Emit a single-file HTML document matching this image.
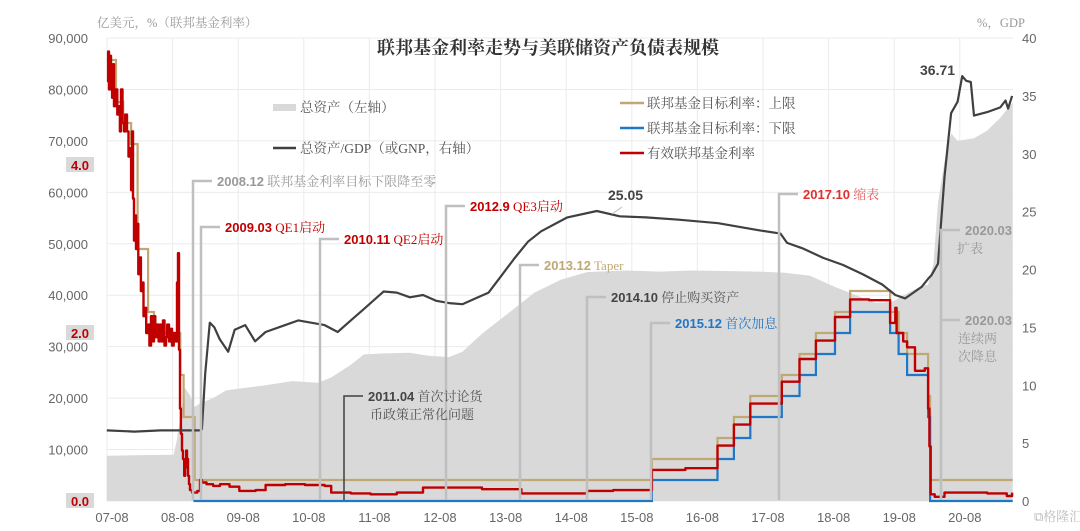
<!DOCTYPE html>
<html><head><meta charset="utf-8"><style>
html,body{margin:0;padding:0;background:#fff;}
svg{display:block;font-family:"Liberation Sans","Noto Sans CJK SC",sans-serif;}
.cn{font-family:"Liberation Serif","Noto Serif CJK SC",serif;}
</style></head><body>
<svg id="chart" width="1080" height="531" viewBox="0 0 1080 531" xmlns="http://www.w3.org/2000/svg">
<g id="grid"></g>
<g id="marks"></g>
<g id="annot"></g>
<g id="axes"></g>
<text x="548" y="54" text-anchor="middle" class="cn" font-size="18" font-weight="bold" fill="#333">联邦基金利率走势与美联储资产负债表规模</text>
<text x="97" y="27" class="cn" font-size="12.5" fill="#999">亿美元，%（联邦基金利率）</text>
<text x="977" y="27" class="cn" font-size="12.5" fill="#999">%，GDP</text>
<g class="cn" font-size="13.5" fill="#555">
<rect x="273" y="104" width="23" height="7" fill="#d9d9d9"/>
<text x="300" y="112">总资产（左轴）</text>
<line x1="273" y1="148" x2="296" y2="148" stroke="#404040" stroke-width="2.5"/>
<text x="300" y="153">总资产/GDP（或GNP，右轴）</text>
<line x1="620" y1="103" x2="644" y2="103" stroke="#bfa873" stroke-width="2.5"/>
<text x="647" y="108">联邦基金目标利率：上限</text>
<line x1="620" y1="128" x2="644" y2="128" stroke="#1f77c8" stroke-width="2.5"/>
<text x="647" y="133">联邦基金目标利率：下限</text>
<line x1="620" y1="153" x2="644" y2="153" stroke="#c00000" stroke-width="2.5"/>
<text x="647" y="158">有效联邦基金利率</text>
</g>
<text x="1034" y="521" font-size="13" fill="#bbb" class="cn">⧉格隆汇</text>
</svg>
<script>
const xTicks=['07-08','08-08','09-08','10-08','11-08','12-08','13-08','14-08','15-08','16-08','17-08','18-08','19-08','20-08'];
const leftTicks=[0,10000,20000,30000,40000,50000,60000,70000,80000,90000];
const rightTicks=[0,5,10,15,20,25,30,35,40];
const rateTicks=[0,2,4];
const assetT=[2007.58,2008.0,2008.6,2008.65,2008.72,2008.77,2008.85,2008.92,2009.0,2009.2,2009.4,2009.7,2010.0,2010.4,2010.8,2011.0,2011.3,2011.5,2011.8,2012.2,2012.5,2012.8,2013.0,2013.3,2013.6,2013.9,2014.1,2014.5,2014.9,2015.5,2016.0,2016.5,2017.0,2017.5,2017.9,2018.3,2018.7,2019.0,2019.3,2019.55,2019.8,2020.0,2020.1,2020.18,2020.25,2020.35,2020.45,2020.55,2020.8,2021.0,2021.2,2021.39];
const assetV=[8800,8900,9000,12000,18000,22000,20500,18300,19000,20000,21500,22000,22500,23300,23000,24000,26500,28500,28700,28800,28200,28000,29000,32500,35500,38500,40500,43000,44500,44800,44600,44800,44700,44600,44400,43800,41500,40000,38500,38700,40500,41800,42000,46000,58000,66000,71500,70000,70500,72000,74500,77500];
const ratioT=[2007.58,2008.0,2008.4,2008.7,2009.0,2009.03,2009.08,2009.15,2009.22,2009.3,2009.43,2009.53,2009.69,2009.84,2010.0,2010.3,2010.5,2010.9,2011.1,2011.3,2011.5,2011.8,2012.0,2012.2,2012.4,2012.6,2012.8,2013.0,2013.2,2013.4,2013.6,2013.8,2014.0,2014.2,2014.6,2015.05,2015.4,2015.8,2016.3,2016.9,2017.5,2017.85,2017.95,2018.2,2018.5,2018.8,2019.1,2019.4,2019.6,2019.75,2020.0,2020.1,2020.15,2020.25,2020.35,2020.45,2020.55,2020.62,2020.68,2020.75,2020.8,2021.0,2021.2,2021.28,2021.32,2021.38];
const ratioV=[6.1,6.0,6.1,6.1,6.1,6.2,11,15.4,15.0,14.0,12.9,14.8,15.2,13.8,14.6,15.2,15.6,15.2,14.6,15.6,16.6,18.1,18.0,17.6,17.8,17.3,17.1,17.0,17.5,18.0,19.5,21.0,22.4,23.3,24.5,25.05,24.6,24.5,24.3,24.0,23.4,23.1,22.3,21.8,21.0,20.4,19.6,18.7,17.8,17.5,18.5,19.2,19.5,20.5,28,33.5,34.5,36.71,36.3,36.2,33.3,33.6,34.0,34.6,33.9,35.0];
const upperT=[2007.58,2007.72,2007.83,2007.95,2008.05,2008.21,2008.3,2008.7,2008.75,2008.92,2015.89,2016.89,2017.14,2017.39,2017.87,2018.14,2018.39,2018.68,2018.91,2019.52,2019.65,2019.78,2020.1,2020.13,2021.39];
const upperV=[5.25,4.75,4.5,4.25,3.0,2.25,2.0,1.5,1.0,0.25,0.5,0.75,1.0,1.25,1.5,1.75,2.0,2.25,2.5,2.25,2.0,1.75,1.25,0.25,0.25];
const lowerT=[2008.9,2015.89,2016.89,2017.14,2017.39,2017.87,2018.14,2018.39,2018.68,2018.91,2019.52,2019.65,2019.78,2020.1,2020.13,2021.39];
const lowerV=[0,0.25,0.5,0.75,1.0,1.25,1.5,1.75,2.0,2.25,2.0,1.75,1.5,1.0,0,0];
const effT=[
2007.583,2007.600,2007.614,2007.630,2007.644,2007.660,2007.675,2007.690,2007.720,2007.740,
2007.766,2007.780,2007.796,2007.820,2007.842,2007.860,2007.888,2007.910,2007.934,2007.950,
2007.964,2007.980,2007.995,2008.010,2008.025,2008.040,2008.060,2008.086,2008.100,2008.117,
2008.140,2008.162,2008.180,2008.208,2008.230,2008.254,2008.280,2008.300,2008.320,2008.345,
2008.370,2008.391,2008.410,2008.437,2008.460,2008.483,2008.500,2008.528,2008.550,2008.574,
2008.600,2008.620,2008.650,2008.666,2008.681,2008.696,2008.710,2008.727,2008.742,2008.760,
2008.773,2008.790,2008.803,2008.818,2008.833,2008.849,2008.880,2008.925,2008.960,2009.001,
2009.031,2009.100,2009.200,2009.306,2009.450,2009.600,2009.687,2009.850,2010.000,2010.300,
2010.600,2010.900,2011.000,2011.300,2011.600,2012.000,2012.400,2012.900,2013.300,2013.900,
2014.300,2014.900,2015.300,2015.890,2016.400,2016.890,2017.140,2017.390,2017.870,2018.140,
2018.390,2018.680,2018.910,2019.200,2019.520,2019.600,2019.620,2019.720,2019.780,2019.900,
2020.050,2020.100,2020.120,2020.140,2020.200,2020.350,2020.600,2021.000,2021.300,2021.380];
const effV=[
5.0,5.35,4.9,5.3,5.0,4.8,5.2,4.7,4.9,4.6,
4.7,4.4,4.9,4.5,4.4,4.6,4.4,4.1,4.2,3.7,
4.4,3.6,3.1,3.4,3.0,3.3,2.7,2.9,2.5,2.6,
2.2,2.3,2.0,2.1,1.85,2.2,1.9,2.2,1.95,2.1,
1.9,2.1,1.9,2.15,1.85,1.95,2.1,1.9,2.05,1.85,
2.0,1.9,2.6,2.95,1.8,1.1,0.8,0.6,0.5,0.3,
0.4,0.6,0.5,0.3,0.2,0.13,0.1,0.1,0.12,0.25,
0.22,0.2,0.18,0.2,0.17,0.12,0.12,0.13,0.19,0.2,
0.19,0.18,0.1,0.09,0.08,0.1,0.16,0.16,0.14,0.09,
0.09,0.12,0.13,0.37,0.39,0.66,0.91,1.16,1.42,1.69,
1.91,2.19,2.40,2.39,2.12,2.3,2.0,1.9,1.83,1.55,
1.58,1.1,0.65,0.08,0.05,0.1,0.1,0.09,0.06,0.1];

const L=107,R=1013,T=38,B=501,X0=2007.583,PXY=65.6;
const NS='http://www.w3.org/2000/svg';
const xs=t=>L+(t-X0)*PXY;
const yL=v=>B-(v/90000)*(B-T);
const yR=v=>B-(v/40)*(B-T);
const yRate=v=>B-v*84;
function mk(tag,attrs,parent){const e=document.createElementNS(NS,tag);for(const k in attrs)e.setAttribute(k,attrs[k]);parent.appendChild(e);return e;}
const grid=document.getElementById('grid'),marks=document.getElementById('marks'),axes=document.getElementById('axes'),annot=document.getElementById('annot');

leftTicks.forEach((v,i)=>{
 const g=mk('line',{x1:L,x2:R,y1:yL(v),y2:yL(v),stroke:'#ebebeb','stroke-width':1},grid);
 
 
 const t=mk('text',{x:88,y:yL(v)+5,'text-anchor':'end','font-size':13,fill:'#666'},axes);
 
 
 t.textContent=v.toLocaleString('en-US');
});
xTicks.forEach((s,i)=>{
 const x=L+i*PXY;
 const g=mk('line',{x1:x,x2:x,y1:T,y2:B,stroke:'#ebebeb','stroke-width':1},grid);
 
 
 const t=mk('text',{x:x+5,y:522,'text-anchor':'middle','font-size':13,fill:'#666'},axes);
 
 
 t.textContent=s;
});
rightTicks.forEach(v=>{
 const t=mk('text',{x:1022,y:yR(v)+5,'font-size':13,fill:'#666'},axes);
 
 
 t.textContent=v;
});
rateTicks.forEach(v=>{
 const y=yRate(v);
 const r=mk('rect',{x:66,y:y-8,width:28,height:15,fill:'#d9d9d9'},axes);
 
 
 const t=mk('text',{x:80,y:y+5,'text-anchor':'middle','font-size':13,'font-weight':'bold',fill:'#c00000'},axes);
 
 
 t.textContent=v.toFixed(1);
});

let d='M'+xs(assetT[0])+','+B;
assetT.forEach((t,i)=>{d+=' L'+xs(t).toFixed(1)+','+yL(assetV[i]).toFixed(1);});
d+=' L'+xs(assetT[assetT.length-1])+','+B+' Z';
const area=mk('path',{d:d,fill:'#d9d9d9'},marks);



function stepPath(T_,V_,yf){let p='';T_.forEach((t,i)=>{const x=xs(t).toFixed(1),y=yf(V_[i]).toFixed(1);if(i===0)p='M'+x+','+y;else{p+=' H'+x+' V'+y;}});return p;}
const up=mk('path',{d:stepPath(upperT,upperV,yRate),fill:'none',stroke:'#bfa873','stroke-width':2.2},marks);


const lo=mk('path',{d:stepPath(lowerT,lowerV,yRate),fill:'none',stroke:'#1f77c8','stroke-width':2.2},marks);


const ef=mk('path',{d:stepPath(effT,effV,yRate),fill:'none',stroke:'#c00000','stroke-width':2.4,'stroke-linejoin':'round'},marks);


let rp='';ratioT.forEach((t,i)=>{rp+=(i?' L':'M')+xs(t).toFixed(1)+','+yR(ratioV[i]).toFixed(1);});
const ra=mk('path',{d:rp,fill:'none',stroke:'#404040','stroke-width':2.2,'stroke-linejoin':'round'},marks);



const notes=[
 {x:193,y:181,c:'#bfbfbf',date:'2008.12',txt:' 联邦基金利率目标下限降至零',dc:'#999',tc:'#999',name:'note-2008-12'},
 {x:201,y:227,c:'#bfbfbf',date:'2009.03',txt:' QE1启动',dc:'#c00000',tc:'#c00000',name:'note-2009-03'},
 {x:320,y:239,c:'#bfbfbf',date:'2010.11',txt:' QE2启动',dc:'#c00000',tc:'#c00000',name:'note-2010-11'},
 {x:446,y:206,c:'#bfbfbf',date:'2012.9',txt:' QE3启动',dc:'#c00000',tc:'#c00000',name:'note-2012-09'},
 {x:520,y:265,c:'#bfbfbf',date:'2013.12',txt:' Taper',dc:'#bfa873',tc:'#bfa873',name:'note-2013-12'},
 {x:587,y:297,c:'#bfbfbf',date:'2014.10',txt:' 停止购买资产',dc:'#444',tc:'#555',name:'note-2014-10'},
 {x:651,y:323,c:'#bfbfbf',date:'2015.12',txt:' 首次加息',dc:'#1f77c8',tc:'#1f77c8',name:'note-2015-12'},
 {x:779,y:194,c:'#bfbfbf',date:'2017.10',txt:' 缩表',dc:'#e03030',tc:'#e06060',name:'note-2017-10'},
 {x:941,y:230,c:'#bfbfbf',date:'2020.03',txt:'',dc:'#999',tc:'#999',name:'note-2020-03-expand',l2:'扩表'},
 {x:941,y:320,c:'#bfbfbf',date:'2020.03',txt:'',dc:'#999',tc:'#999',name:'note-2020-03-cut',l2:'连续两',l3:'次降息'},
 {x:344,y:396,c:'#404040',date:'2011.04',txt:' 首次讨论货',dc:'#444',tc:'#555',name:'note-2011-04',l2:'币政策正常化问题'}
];
notes.forEach(n=>{
 const g=mk('g',{},annot);
 
 
 const w=n.c==='#404040'?1.5:2.5;
 mk('path',{d:'M'+n.x+','+(B-1)+' V'+n.y+' H'+(n.x+19),fill:'none',stroke:n.c,'stroke-width':w},g);
 const t=mk('text',{x:n.x+24,y:n.y+5,'font-size':13},g);
 const s1=mk('tspan',{fill:n.dc,'font-weight':'bold'},t);s1.textContent=n.date;
 const s2=mk('tspan',{fill:n.tc,class:'cn'},t);s2.textContent=n.txt;
 if(n.l2){const t2=mk('text',{x:n.x+(n.l3?17:16)+(n.name==='note-2011-04'?10:0),y:n.y+23,'font-size':13,fill:n.tc,class:'cn'},g);t2.textContent=n.l2;}
 if(n.l3){const t3=mk('text',{x:n.x+17,y:n.y+41,'font-size':13,fill:n.tc,class:'cn'},g);t3.textContent=n.l3;}
});
const p1=mk('text',{x:608,y:200,'font-size':14,'font-weight':'bold',fill:'#444'},annot);


p1.textContent='25.05';
const p1l=mk('line',{x1:622,y1:207,x2:612,y2:214,stroke:'#bbb','stroke-width':1},annot);


const p2=mk('text',{x:920,y:75,'font-size':14,'font-weight':'bold',fill:'#444'},annot);


p2.textContent='36.71';
</script>
</body></html>
